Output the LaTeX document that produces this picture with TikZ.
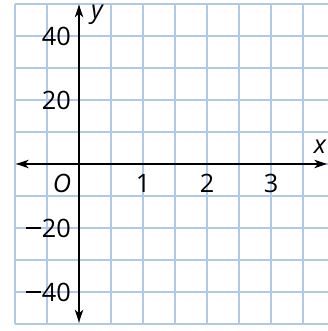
\documentclass[tikz,border=0pt]{standalone}
\usepackage{fontspec}
\setmainfont{Open Sans}
\usetikzlibrary{arrows.meta}
\definecolor{gridblue}{RGB}{178,200,232}
\newcommand\mns{\rule[0.31em]{0.58em}{0.075em}\hspace{0.05em}}
\tikzset{
  axis/.style={line width=0.9pt,{Stealth[length=9pt,width=6pt,inset=2.5pt]}-{Stealth[length=9pt,width=6pt,inset=2.5pt]}},
  ticklab/.style={inner sep=0pt,font=\fontsize{18}{21}\selectfont},
  varlab/.style={inner sep=0pt,font=\fontsize{18}{21}\selectfont\itshape}
}
\begin{document}
\begin{tikzpicture}[x=0.8cm,y=0.8cm,line cap=round,line join=round]
  \useasboundingbox (-2.47,-5.22) rectangle (7.78,5.125);
  % grid
  \begin{scope}
    \clip (-2.47,-5.22) rectangle (7.78,5.125);
    \draw[gridblue,line width=1.4pt,line cap=butt,step=0.8cm] (-2,-5) grid (7.9,5);
  \end{scope}
  % axes
  \coordinate (xleft) at (-1.97,0);
  \coordinate (xright) at (7.75,0);
  \coordinate (ytop) at (0,4.98);
  \coordinate (ybot) at (0,-4.95);
  \draw[axis] (xleft) -- (xright);
  \draw[axis] (ytop) -- (ybot);
  % labels
  \foreach \v/\lab/\nm in {4/40/a,2/20/b,-2/\mns20/c,-4/\mns40/d}{
    \node[ticklab,anchor=east] (ytick\nm) at (-0.25,\v) {\lab};
  }
  \foreach \i in {1,2,3}{
    \node[ticklab] (xtick\i) at (2*\i,-0.6) {\i};
  }
  \node[varlab] (orig) at (-0.53,-0.6) {O};
  \node[varlab] (xname) at (7.53,0.53) {x};
  \node[varlab] (yname) at (0.56,4.66) {y};
\end{tikzpicture}
\end{document}
